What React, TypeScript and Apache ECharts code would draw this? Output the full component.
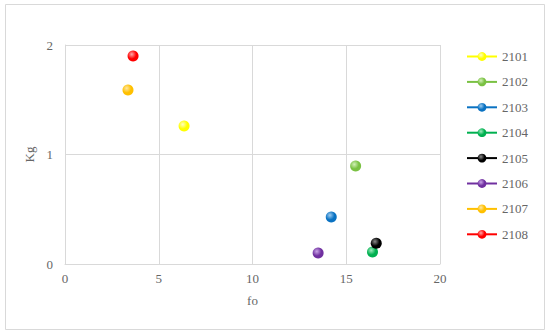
import React, { useEffect, useRef } from "react";
import * as echarts from "echarts";

const seriesNames = ["2101", "2102", "2103", "2104", "2105", "2106", "2107", "2108"];
const foValues = [6.35, 15.5, 14.2, 16.4, 16.6, 13.5, 3.36, 3.63];
const kgValues = [1.26, 0.895, 0.43, 0.11, 0.19, 0.1, 1.59, 1.9];
const colors = ["#FFFF00", "#7AC143", "#0A72C2", "#00B050", "#000000", "#7030A0", "#FFC000", "#FF0000"];
const lightColors = ["#FFFFC0", "#D2F0B8", "#9CCBF0", "#9CEBBC", "#8A8A8A", "#C9A4E6", "#FFE7A0", "#FFA8A8"];
const xTicks = [0, 5, 10, 15, 20];
const yTicks = [0, 1, 2];

const FONT = "Liberation Serif";
const GRAY = "#666666";

export default function App() {
  const ref = useRef<HTMLDivElement>(null);
  useEffect(() => {
    if (!ref.current) return;
    const chart = echarts.init(ref.current, undefined, { renderer: "svg" });
    const series = seriesNames.map((name, i) => ({
      name,
      type: "line",
      data: [[foValues[i], kgValues[i]]],
      symbol: "circle",
      symbolSize: 11,
      showSymbol: true,
      lineStyle: { color: colors[i], width: 1.2 },
      itemStyle: {
        color: {
          type: "radial",
          x: 0.38,
          y: 0.35,
          r: 0.75,
          colorStops: [
            { offset: 0, color: lightColors[i] },
            { offset: 0.55, color: colors[i] },
            { offset: 1, color: colors[i] },
          ],
        },
        borderWidth: 0,
      },
    }));
    chart.setOption({
      animation: false,
      backgroundColor: "#ffffff",
      graphic: [
        {
          type: "rect",
          shape: { x: 5.5, y: 4.5, width: 539, height: 325 },
          style: { fill: "none", stroke: "#D9D9D9", lineWidth: 1 },
          silent: true,
        },
      ],
      grid: { left: 65, right: 110, top: 45, bottom: 70, containLabel: false },
      legend: {
        orient: "vertical",
        left: 466,
        top: 50,
        padding: 0,
        itemWidth: 30,
        itemHeight: 11,
        itemGap: 12.4,
        textStyle: { fontFamily: FONT, fontSize: 13, color: GRAY },
        data: seriesNames,
      },
      xAxis: {
        type: "value",
        min: xTicks[0],
        max: xTicks[xTicks.length - 1],
        interval: 5,
        name: "fo",
        nameLocation: "middle",
        nameGap: 30,
        nameTextStyle: { fontFamily: FONT, fontSize: 13, color: GRAY },
        axisLine: { show: true, lineStyle: { color: "#D9D9D9" } },
        axisTick: { show: false },
        axisLabel: { fontFamily: FONT, fontSize: 13, color: GRAY, margin: 8 },
        splitLine: { show: true, lineStyle: { color: "#D9D9D9" } },
      },
      yAxis: {
        type: "value",
        min: yTicks[0],
        max: yTicks[yTicks.length - 1],
        interval: 1,
        name: "Kg",
        nameLocation: "middle",
        nameGap: 28,
        nameTextStyle: { fontFamily: FONT, fontSize: 13, color: GRAY },
        axisLine: { show: true, lineStyle: { color: "#D9D9D9" } },
        axisTick: { show: false },
        axisLabel: { fontFamily: FONT, fontSize: 13, color: GRAY, margin: 12 },
        splitLine: { show: true, lineStyle: { color: "#D9D9D9" } },
      },
      series,
    });
    return () => chart.dispose();
  }, []);
  return (
    <div
      ref={ref}
      style={{ position: "fixed", left: 0, top: 0, width: 550, height: 334 }}
    />
  );
}
